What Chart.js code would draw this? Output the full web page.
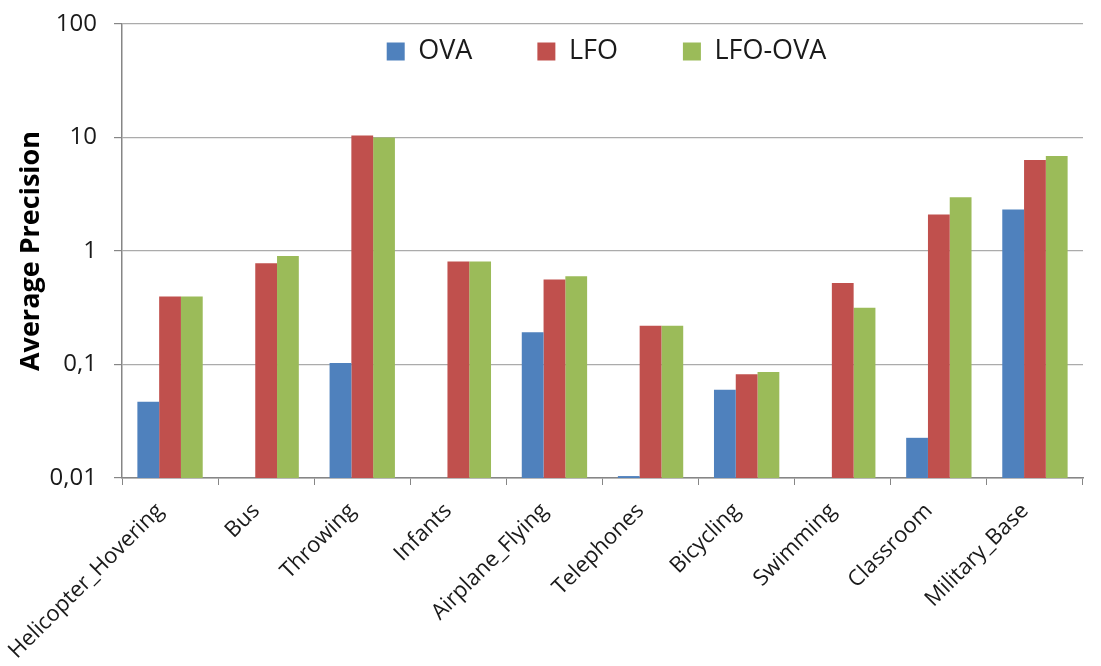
<!DOCTYPE html>
<html lang="en">
<head>
    <meta charset="UTF-8">
    <title>Average Precision</title>
    <style>
        body, html {
            margin: 0;
            padding: 0;
            background: #fff;
        }
        canvas {
            display: block;
        }
    </style>
</head>
<body>
    <canvas id="myChart" width="1101" height="666"></canvas>
    <script src="https://cdn.jsdelivr.net/npm/chart.js"></script>
    <script>
        const categories = ['Helicopter_Hovering', 'Bus', 'Throwing', 'Infants', 'Airplane_Flying',
                            'Telephones', 'Bicycling', 'Swimming', 'Classroom', 'Military_Base'];
        const ova    = [0.047, null, 0.103, null, 0.192, 0.0104, 0.060, null, 0.0226, 2.32];
        const lfo    = [0.398, 0.778, 10.4, 0.81, 0.562, 0.219, 0.082, 0.522, 2.10, 6.34];
        const lfoOva = [0.398, 0.902, 10.0, 0.81, 0.598, 0.219, 0.086, 0.316, 2.98, 6.87];
        const yTicks = [0.01, 0.1, 1, 10, 100];

        const FONT = '"Open Sans", sans-serif';
        const LEGEND_TOP = -27; // legend is drawn inside the plot, over the top gridline area

        // legend takes no layout space (maxHeight 1); move it into the plot before drawing
        const legendShift = {
            id: 'legendShift',
            beforeDraw(chart) {
                const lg = chart.legend;
                const area = chart.chartArea;
                lg.top = LEGEND_TOP;
                lg.bottom = LEGEND_TOP + 200;
                lg.left = area.left + 4;
                lg.right = area.right + 4;
            }
        };

        const ctx = document.getElementById('myChart').getContext('2d');
        const myChart = new Chart(ctx, {
            type: 'bar',
            data: {
                labels: categories,
                datasets: [
                    { label: 'OVA', data: ova, backgroundColor: '#4F81BD' },
                    { label: 'LFO', data: lfo, backgroundColor: '#C0504D' },
                    { label: 'LFO-OVA', data: lfoOva, backgroundColor: '#9BBB59' }
                ]
            },
            options: {
                responsive: false,
                animation: false,
                devicePixelRatio: 1,
                datasets: {
                    bar: {
                        categoryPercentage: 0.68,
                        barPercentage: 1.0,
                        borderWidth: 0
                    }
                },
                layout: {
                    padding: { top: 23, right: 18, bottom: 0, left: 0 }
                },
                plugins: {
                    tooltip: { enabled: false },
                    legend: {
                        position: 'top',
                        align: 'center',
                        maxHeight: 1,
                        labels: {
                            boxWidth: 18,
                            boxHeight: 18,
                            padding: 65,
                            color: '#1a1a1a',
                            font: { family: FONT, size: 27 }
                        }
                    }
                },
                scales: {
                    x: {
                        afterFit(scale) { scale.height = 188; },
                        border: { color: '#868686', width: 1.5 },
                        grid: {
                            drawOnChartArea: false,
                            drawTicks: true,
                            tickLength: 7,
                            tickColor: '#868686'
                        },
                        ticks: {
                            autoSkip: false,
                            minRotation: 45,
                            maxRotation: 45,
                            padding: 13,
                            labelOffset: -10,
                            color: '#1a1a1a',
                            font: { family: FONT, size: 22 }
                        }
                    },
                    y: {
                        type: 'logarithmic',
                        min: 0.01,
                        max: 100,
                        afterFit(scale) {
                            scale.width = 122;
                            scale.paddingTop = 0;
                            scale.paddingBottom = 0;
                        },
                        afterBuildTicks(scale) {
                            scale.ticks = yTicks.map(v => ({ value: v, major: true }));
                        },
                        border: { color: '#868686', width: 1.5 },
                        grid: {
                            color: '#ababab',
                            lineWidth: 1.2,
                            drawTicks: true,
                            tickLength: 8,
                            tickColor: '#868686'
                        },
                        ticks: {
                            padding: 17,
                            color: '#1a1a1a',
                            font: { family: FONT, size: 24 },
                            callback: v => String(v).replace('.', ',')
                        },
                        title: {
                            display: true,
                            text: 'Average Precision',
                            color: '#000',
                            padding: { top: 15, bottom: 0 },
                            font: { family: FONT, size: 27, weight: 'bold' }
                        }
                    }
                }
            },
            plugins: [legendShift]
        });
    </script>
</body>
</html>
